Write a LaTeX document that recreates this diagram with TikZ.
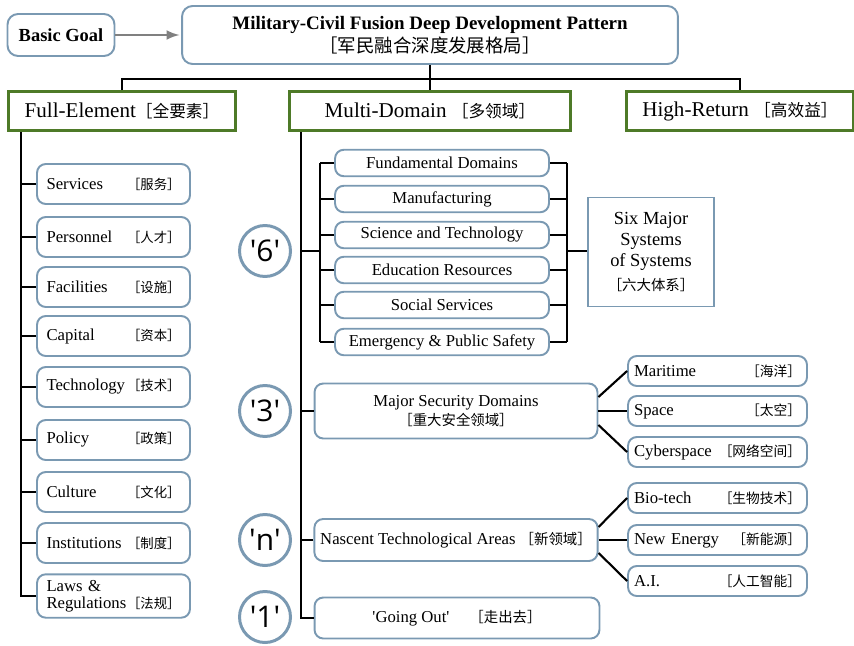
\documentclass[tikz,border=0pt]{standalone}
\usepackage{fontspec}
\setmainfont{Liberation Serif}
\newfontfamily\cjk{Noto Sans CJK SC}
\newfontfamily\numfont{Open Sans}
\definecolor{boxblue}{RGB}{122,153,178}
\definecolor{boxgreen}{RGB}{78,122,40}
\definecolor{arrgray}{RGB}{128,128,128}
\newcommand{\zh}[2][8]{{\cjk\fontsize{#1}{#1}\selectfont ［#2］}}
\newcommand{\q}{\textquotesingle}

\begin{document}
\begin{tikzpicture}[x=0.02cm,y=-0.02cm,>=latex,
        goal/.style={draw=boxblue,line width=1.1pt,rounded corners=6pt,align=center},
        aspect/.style={draw=boxgreen,line width=1.7pt,minimum height=0.78cm,font=\fontsize{12}{14}\selectfont},
        item/.style={draw=boxblue,line width=1.1pt,rounded corners=5pt,font=\fontsize{9.5}{10}\selectfont},
        leftitem/.style={item,text width=2.68cm,inner xsep=0.19cm,minimum height=0.8cm,align=left},
        subitem/.style={item,text width=3.34cm,inner xsep=0.12cm,minimum height=0.6cm,align=left},
        sixitem/.style={item,minimum width=4.28cm,minimum height=0.53cm,inner sep=0pt},
        count/.style={circle,draw=boxblue,line width=1.7pt,minimum size=1.02cm,inner sep=0pt,font=\numfont\fontsize{17}{17}\selectfont},
        tree/.style={line width=1.2pt}]
        \useasboundingbox (0,0) rectangle (854,645);
        % top level
        \node[goal,minimum width=2.14cm,minimum height=0.84cm,font=\bfseries\fontsize{10.5}{12}\selectfont] (goal) at (61,35) {Basic Goal};
        \node[goal,minimum width=9.92cm,minimum height=1.16cm,font=\fontsize{10.8}{13}\selectfont] (pattern) at (430,35) {\textbf{Military-Civil Fusion Deep Development Pattern}\\\zh[10.5]{军民融合深度发展格局}};
        \draw[->,arrgray,line width=1.5pt,shorten >=1pt] (goal) -- (pattern);
        \node[aspect,minimum width=4.56cm] (full) at (122,111) {Full-Element\zh[9.5]{全要素}};
        \node[aspect,minimum width=5.62cm] (multi) at (430,111) {Multi-Domain \zh[9.5]{多领域}};
        \node[aspect,minimum width=4.54cm] (high) at (740,111) {High-Return \zh[9.5]{高效益}};
        \coordinate (fork) at (430,79);
        \draw[tree] (pattern) -- (fork);
        \draw[tree] (full.north) |- (fork) -| (high.north);
        \draw[tree] (fork) -- (multi);
        % full-element
        \coordinate (lspine) at (21,130);
        \foreach \n/\y/\en/\cn in {services/184/Services/服务,personnel/237/Personnel/人才,facilities/287/Facilities/设施,
                capital/336/Capital/资本,technology/387/Technology/技术,policy/440/Policy/政策,culture/492/Culture/文化,
                institutions/543/Institutions/制度,laws/596/{\shortstack[l]{Laws \&\\Regulations}}/法规}{
            \node[leftitem] (\n) at (113.5,\y) {\en\hfill\zh[7.6]{\cn}};
            \draw[tree] (\n.west) -- (\n.west -| lspine);
        }
        \draw[tree] (full.south -| lspine) |- (laws.west);
        % multi-domain
        \coordinate (mspine) at (301,130);
        \node[count] (c6) at (265,251) {\q6\q};
        \node[count] (c3) at (265,411) {\q3\q};
        \node[count] (cn) at (265,540) {\q n\q};
        \node[count] (c1) at (265,617) {\q1\q};
        \coordinate (sixl) at (320,251);
        \coordinate (sixr) at (567,251);
        \foreach \n/\y/\txt in {fund/163/Fundamental Domains,manuf/199/Manufacturing,scitech/235/Science and Technology,
                edu/270/Education Resources,social/305/Social Services,emerg/342/Emergency \& Public Safety}{
            \node[sixitem] (\n) at (442,\y) {\txt};
            \draw[tree] (\n.west) -- (\n.west -| sixl);
            \draw[tree] (\n.east) -- (\n.east -| sixr);
        }
        \draw[tree] (fund.west -| sixl) -- (emerg.west -| sixl);
        \draw[tree] (fund.east -| sixr) -- (emerg.east -| sixr);
        \node[draw=boxblue,line width=1.1pt,minimum width=2.52cm,minimum height=2.18cm,align=center,font=\fontsize{10.5}{11.8}\selectfont] (six) at (651,252) {Six Major\\Systems\\of Systems\\[2pt]\zh[8.2]{六大体系}};
        \draw[tree] (sixl -| mspine) -- (sixl);
        \draw[tree] (sixr) -- (sixr -| six.west);
        \node[item,minimum width=5.66cm,minimum height=1.1cm,align=center] (security) at (456,411) {Major Security Domains\\[1pt]\zh[8.2]{重大安全领域}};
        \node[item,minimum width=5.66cm,minimum height=0.84cm] (nascent) at (456,540) {Nascent Technological Areas \zh[8.2]{新领域}};
        \node[item,minimum width=5.7cm,minimum height=0.82cm] (goout) at (457,618) {\q Going Out\q\hspace{1.2em}\zh[8.2]{走出去}};
        \foreach \n in {security,nascent,goout}
            \draw[tree] (\n.west) -- (\n.west -| mspine);
        \draw[tree] (multi.south -| mspine) |- (goout.west);
        % domains
        \foreach \n/\y/\en/\cn in {maritime/371/Maritime/海洋,space/411/Space/太空,cyber/452/Cyberspace/网络空间,
                bio/498/Bio-tech/生物技术,energy/540/New Energy/新能源,ai/581/A.I./人工智能}{
            \node[subitem] (\n) at (717.5,\y) {\en\hfill\zh[7.8]{\cn}};
        }
        \draw[tree] ([yshift=0.28cm]security.east) -- (maritime.west);
        \draw[tree] (security.east) -- (space.west);
        \draw[tree] ([yshift=-0.28cm]security.east) -- (cyber.west);
        \draw[tree] ([yshift=0.26cm]nascent.east) -- (bio.west);
        \draw[tree] (nascent.east) -- (energy.west);
        \draw[tree] ([yshift=-0.26cm]nascent.east) -- (ai.west);
    \end{tikzpicture}
\end{document}
